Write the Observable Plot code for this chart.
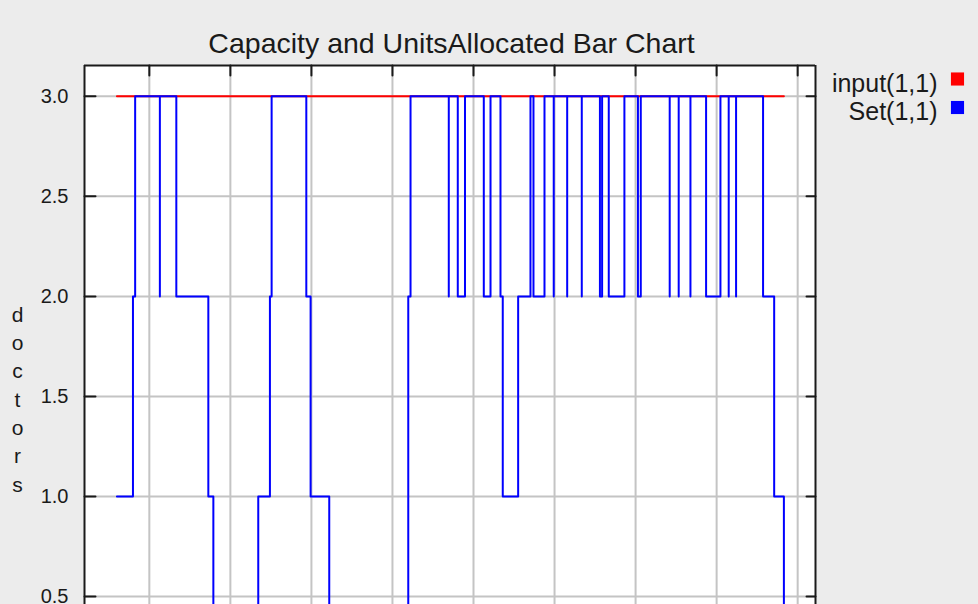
<!DOCTYPE html>
<html>
<head>
<meta charset="utf-8">
<script src="https://cdn.jsdelivr.net/npm/d3@7"></script>
<script src="https://cdn.jsdelivr.net/npm/@observablehq/plot@0.6"></script>
<style>
  html, body { margin: 0; padding: 0; background: #ececec; overflow: hidden; }
  #chart { width: 978px; height: 604px; }
</style>
</head>
<body>
<div id="chart"></div>
<script>
// Chart text
const chartTitle = "Capacity and UnitsAllocated Bar Chart";
const yLabel = "doctors";
const legendLabels = ["input(1,1)", "Set(1,1)"];
const legendColors = ["#ff0000", "#0000ff"];

// Capacity: constant over the whole run
const inputTimes = [6.0, 88.3];
const inputValues = [3, 3];

// Units allocated: value holds from each time until the next one
const setTimes = [6.0, 7.98, 8.25, 11.3, 11.3, 13.33, 17.28, 17.9, 23.44, 24.88,
  25.09, 29.37, 29.9, 32.2, 41.95, 42.23, 46.95, 46.95, 48.06, 48.95,
  51.27, 52.1, 53.33, 53.61, 55.51, 57.03, 57.4, 58.76, 59.9, 59.9,
  61.56, 61.56, 63.36, 63.36, 65.6, 65.87, 66.69, 68.62, 70.29, 70.64,
  74.21, 74.21, 75.32, 75.32, 76.77, 76.77, 78.7, 80.47, 81.49, 81.49,
  82.4, 82.4, 85.73, 87.1, 88.3];
const setValues = [1, 2, 3, 2, 3, 2, 1, 0, 1, 2,
  3, 2, 1, 0, 2, 3, 2, 3, 2, 3,
  2, 3, 2, 1, 2, 3, 2, 3, 2, 3,
  2, 3, 2, 3, 2, 3, 2, 3, 2, 3,
  2, 3, 2, 3, 2, 3, 2, 3, 2, 3,
  2, 3, 2, 1, 0];

// Axes
const xDomain = [2, 92.2];
const yDomain = [0.46, 3.154];
const xTicks = [10, 20, 30, 40, 50, 60, 70, 80, 90];
const yTicks = [0.5, 1.0, 1.5, 2.0, 2.5, 3.0];

const inputData = inputTimes.map((t, i) => ({t, v: inputValues[i]}));
const setData = setTimes.map((t, i) => ({t, v: setValues[i]}));

// straight tick stroke for the vector mark
const tickShape = {draw(context, l) { context.moveTo(0, 0); context.lineTo(0, -l); }};
const font = "'Liberation Sans', Arial, Helvetica, sans-serif";
const ink = "#1a1a1a";

const plot = Plot.plot({
  width: 978,
  height: 604,
  marginLeft: 84,
  marginRight: 163,
  marginTop: 65,
  marginBottom: 0,
  style: {background: "transparent", fontFamily: font, overflow: "visible"},
  x: {domain: xDomain, axis: null},
  y: {domain: yDomain, axis: null},
  marks: [
    Plot.frame({fill: "white", stroke: "none"}),
    Plot.gridX(xTicks, {stroke: "#c4c4c4", strokeOpacity: 1, strokeWidth: 2}),
    Plot.gridY(yTicks, {stroke: "#c4c4c4", strokeOpacity: 1, strokeWidth: 2}),
    // plot border (left, right, top)
    Plot.ruleX(xDomain, {stroke: ink, strokeWidth: 2}),
    Plot.ruleY([yDomain[1]], {stroke: ink, strokeWidth: 2}),
    // inward tick marks
    Plot.vector(xTicks, {x: d => d, frameAnchor: "top", rotate: 180, length: 10, anchor: "start", shape: tickShape, stroke: ink, strokeWidth: 2}),
    Plot.vector(yTicks, {y: d => d, frameAnchor: "left", rotate: 90, length: 11, anchor: "start", shape: tickShape, stroke: ink, strokeWidth: 2}),
    Plot.vector(yTicks, {y: d => d, frameAnchor: "right", rotate: -90, length: 9, anchor: "start", shape: tickShape, stroke: ink, strokeWidth: 2}),
    Plot.axisY(yTicks, {anchor: "left", tickSize: 0, tickPadding: 16, tickFormat: d => d.toFixed(1), fontSize: 20, fill: ink, label: null}),
    // series
    Plot.line(inputData, {x: "t", y: "v", curve: "step-after", stroke: legendColors[0], strokeWidth: 2, clip: true}),
    Plot.line(setData, {x: "t", y: "v", curve: "step-after", stroke: legendColors[1], strokeWidth: 2, clip: true}),
    // title
    Plot.text([chartTitle], {text: d => d, frameAnchor: "top", lineAnchor: "middle", dy: -22, dx: 1.5, fontSize: 28.5, fill: ink}),
    // stacked y label
    Plot.text([yLabel.split("").join("\n")], {text: d => d, frameAnchor: "left", textAnchor: "middle", lineAnchor: "middle", dx: -67, dy: 62.5, fontSize: 21, lineHeight: 1.35, fill: ink}),
    // legend
    ...legendLabels.map((label, i) => Plot.text([label], {text: d => d, frameAnchor: "top-right", textAnchor: "end", lineAnchor: "middle", dx: 122, dy: 18 + 28.5 * i, fontSize: 25, fill: ink})),
    ...legendColors.map((color, i) => Plot.dot([color], {frameAnchor: "top-right", dx: 142, dy: 13.5 + 28.5 * i, symbol: "square", r: 7.4, fill: color, stroke: "none"}))
  ]
});

document.getElementById("chart").appendChild(plot);
</script>
</body>
</html>
